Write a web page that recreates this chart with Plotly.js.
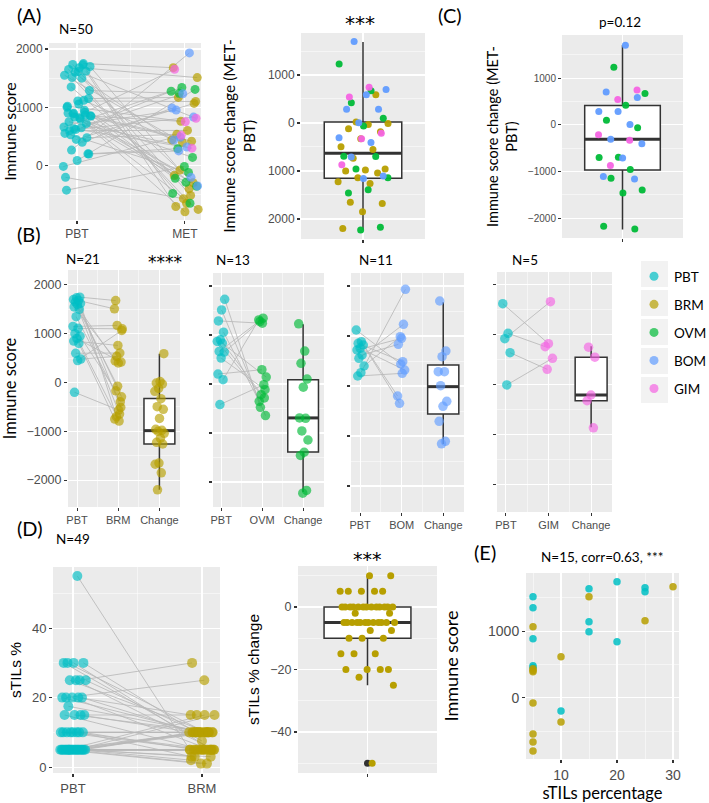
<!DOCTYPE html>
<html><head><meta charset="utf-8">
<script src="https://cdn.plot.ly/plotly-3.0.1.min.js"></script>
<style>html,body{margin:0;padding:0;background:#fff}#chart{width:709px;height:803px}</style>
</head><body><div id="chart"></div>
<script>
// ---------------- DATA ----------------
const groupNames = ['PBT', 'BRM', 'OVM', 'BOM', 'GIM'];
// paired immune scores: primary breast tumour (PBT) vs metastasis, per metastatic site
const pbtBRM = [1750, 1735, 1700, 1680, 1650, 1620, 1600, 1550, 1500, 1350, 1150, 1110, 1000, 950, 900, 850, 800, 600, 480, 450, -200];
const metBRM = [1680, -510, -75, 1510, -646, -700, -292, 400, 442, -395, 1170, 1100, -790, -170, 420, 760, -750, 605, 537, 1068, -565];
const pbtOVM = [1729, 1512, 1288, 1058, 902, 868, 834, 664, 651, 529, 203, 88, -420];
const metOVM = [-475, -644, 1240, -353, -285, -217, 142, 1342, 1275, -115, 292, 1308, -14];
const pbtBOM = [1120, 887, 853, 820, 753, 720, 620, 553, 400, 267, 200];
const metBOM = [440, -200, 487, -347, 320, 953, 833, 1233, 987, 1933, 253];
const pbtGIM = [1613, 1020, 913, 633, -13];
const metGIM = [813, 753, 1653, 300, 520];
// immune score change (MET - PBT) as plotted
const chgBRM = [590, 20, -10, -30, -120, -180, -330, -495, -550, -735, -960, -980, -1000, -1040, -1140, -1225, -1260, -1650, -1675, -1850, -2200];
const chgOVM = [1229, 671, 421, 100, -64, -693, -700, -957, -1143, -1393, -1457, -2171, -2229];
const chgBOM = [1700, 700, 586, 286, 286, 7, -307, -407, -707, -1107, -1157];
const chgGIM = [743, 543, -214, -329, -871];
// box statistics: A(all), C(non-BRM), BRM, OVM, BOM, GIM, D(sTILs change)
const boxNames = ['A', 'C', 'BRM', 'OVM', 'BOM', 'GIM', 'D'];
const boxQ1  = [-1150, -964, -1258, -1390, -560, -329, -10];
const boxMed = [-630, -307, -986, -692, -13, -214, -5];
const boxQ3  = [20, 414, -327, 88, 420, 543, 0];
const boxLo  = [-2230, -2236, -2200, -2203, -1160, -860, -25];
const boxHi  = [1690, 1700, 590, 1220, 1673, 760, 10];
const boxOutD = [-50];
// sTILs % paired PBT vs BRM (N=49)
const tilPBT = [55, 30, 30, 30, 30, 25, 25, 25, 25, 20, 20, 20, 20, 20, 17.5, 15, 15, 15, 15, 10, 10, 10, 10, 10, 10, 10, 10,
  5, 5, 5, 5, 5, 5, 5, 5, 5, 5, 5, 5, 5, 5, 5, 5, 5, 5, 5, 5, 5, 5];
const tilBRM = [5, 10, 10, 5, 7.5, 30, 10, 10, 5, 25, 10, 5, 10, 15, 10, 15, 10, 5, 10, 10, 10, 10, 10, 5, 5, 5, 3,
  5, 5, 5, 5, 5, 5, 5, 5, 5, 10, 10, 10, 10, 10, 10, 15, 15, 3, 3, 1, 2, 1];
const tilChange = [10, 10, 5, 5, 5, 5, 5, 0, 0, 0, 0, 0, 0, 0, 0, 0, 0, 0, 0, 0, -2, -2,
  -5, -5, -5, -5, -5, -5, -5, -5, -5, -5, -5, -5, -7.5, -7.5, -10, -10, -10, -15, -15, -15, -20, -20, -20, -20, -22.5, -25, -50];
// panel E: sTILs percentage vs immune score
const eTilPBT = [5, 5, 5, 5, 5, 10, 15, 15, 15, 20, 20, 25, 25];
const eImmPBT = [1514, 1349, 885, 480, 455, -195, 1634, 1139, 990, 1739, 840, 1650, 1590];
const eTilBRM = [5, 5, 5, 5, 5, 5, 5, 5, 10, 10, 15, 25, 30];
const eImmBRM = [1064, 435, 410, 390, -75, -540, -660, -795, 615, -360, 1514, 1155, 1664];
// tick labels
const immTicks = [-2000, -1000, 0, 1000, 2000];
const immLabels = ['\u22122000', '\u22121000', '0', '1000', '2000'];
const immLabelsA = ['2000', '1000', '0', '1000', '2000'];
const catPair = ['PBT', 'MET'];
const catBRM = ['PBT', 'BRM', 'Change'];
const catOVM = ['PBT', 'OVM', 'Change'];
const catBOM = ['PBT', 'BOM', 'Change'];
const catGIM = ['PBT', 'GIM', 'Change'];
const catTIL = ['PBT', 'BRM'];
const tilTicks = [0, 20, 40];
const tilLabels = ['0', '20', '40'];
const tilChgTicks = [-40, -20, 0];
const tilChgLabels = ['\u221240', '\u221220', '0'];
const eXTicks = [10, 20, 30];
const eXLabels = ['10', '20', '30'];

// ---------------- STYLE / HELPERS ----------------
const W = 709, H = 803;
const COL = {PBT: '#00BFC4', BRM: '#B79F00', OVM: '#00BA38', BOM: '#619CFF', GIM: '#F564E3'};
const dX = (l, r) => [l / W, r / W];
const dY = (t, b) => [1 - b / H, 1 - t / H];
const LINE = 'rgba(185,185,185,0.85)';
// deterministic horizontal jitter (presentation only)
function jit(n, w, seed) {
  const a = [];
  for (let i = 0; i < n; i++) a.push(((((i + 1) * 0.6180339887 + seed) % 1) - 0.5) * 2 * w);
  return a;
}
const traces = [];
function addLines(xa, ya, xs1, xs2, y1, y2) {
  const xs = [], ys = [];
  for (let i = 0; i < y1.length; i++) { xs.push(xs1[i], xs2[i], null); ys.push(y1[i], y2[i], null); }
  traces.push({type: 'scatter', mode: 'lines', x: xs, y: ys, xaxis: xa, yaxis: ya,
    line: {color: LINE, width: 1}, hoverinfo: 'skip', showlegend: false});
}
function addPts(xa, ya, xs, ys, color, size, op, name, legend) {
  traces.push({type: 'scatter', mode: 'markers', x: xs, y: ys, xaxis: xa, yaxis: ya, name: name,
    legendgroup: name, showlegend: !!legend, marker: {color: color, size: size, opacity: op, line: {width: 0}},
    hoverinfo: 'skip', cliponaxis: false});
}
function addBox(xa, ya, pos, k) {
  traces.push({type: 'box', xaxis: xa, yaxis: ya, x: [pos], q1: [boxQ1[k]], median: [boxMed[k]], q3: [boxQ3[k]],
    lowerfence: [boxLo[k]], upperfence: [boxHi[k]], width: 0.75, whiskerwidth: 0, fillcolor: '#FFFFFF',
    line: {color: '#333333', width: 1.5}, boxpoints: false, showlegend: false, hoverinfo: 'skip'});
  traces.push({type: 'scatter', mode: 'lines', x: [pos - 0.375, pos + 0.375], y: [boxMed[k], boxMed[k]],
    xaxis: xa, yaxis: ya, line: {color: '#333333', width: 3}, hoverinfo: 'skip', showlegend: false});
}
const offs = (base, j) => j.map(v => base + v);

// ---------------- PANEL A (left): all pairs ----------------
const metSets = [['BRM', pbtBRM, metBRM, chgBRM], ['OVM', pbtOVM, metOVM, chgOVM], ['BOM', pbtBOM, metBOM, chgBOM], ['GIM', pbtGIM, metGIM, chgGIM]];
{
  const allP = [].concat(pbtBRM, pbtOVM, pbtBOM, pbtGIM);
  const allM = [].concat(metBRM, metOVM, metBOM, metGIM);
  const jp = offs(1, jit(allP.length, 0.13, 0.11));
  const jm = offs(2, jit(allM.length, 0.13, 0.47));
  addLines('x', 'y', jp, jm, allP, allM);
  addPts('x', 'y', jp, allP, COL.PBT, 9, 0.7, 'PBT', true);
  let s = 0;
  metSets.forEach(([g, p, m]) => {
    addPts('x', 'y', jm.slice(s, s + m.length), m, COL[g], 9, 0.7, g, true);
    s += m.length;
  });
}
// ---------------- PANEL A (right): change, all ----------------
addBox('x2', 'y2', 1, 0);
metSets.forEach(([g, p, m, c], i) => addPts('x2', 'y2', offs(1, jit(c.length, 0.25, 0.13 + i * 0.29)), c, COL[g], 7, 0.95, g, false));
// ---------------- PANEL C: change, non-BRM ----------------
addBox('x3', 'y3', 1, 1);
metSets.slice(1).forEach(([g, p, m, c], i) => addPts('x3', 'y3', offs(1, jit(c.length, 0.25, 0.71 + i * 0.23)), c, COL[g], 7, 0.95, g, false));
// ---------------- PANEL B: per site ----------------
metSets.forEach(([g, p, m, c], i) => {
  const xa = 'x' + (4 + i), ya = 'y' + (4 + i);
  const jp = offs(1, jit(p.length, 0.1, 0.21 + i * 0.1));
  const jm = offs(2, jit(m.length, 0.1, 0.57 + i * 0.1));
  addLines(xa, ya, jp, jm, p, m);
  addPts(xa, ya, jp, p, COL.PBT, 9.5, 0.65, 'PBT', false);
  addPts(xa, ya, jm, m, COL[g], 9.5, 0.65, g, false);
  addBox(xa, ya, 3, 2 + i);
  addPts(xa, ya, offs(3, jit(c.length, 0.12, 0.33 + i * 0.1)), c, COL[g], 9.5, 0.65, g, false);
});
// ---------------- PANEL D ----------------
{
  const jp = offs(1, jit(tilPBT.length, 0.1, 0.05));
  const jb = offs(2, jit(tilBRM.length, 0.1, 0.41));
  addLines('x8', 'y8', jp, jb, tilPBT, tilBRM);
  addPts('x8', 'y8', jp, tilPBT, COL.PBT, 10, 0.65, 'PBT', false);
  addPts('x8', 'y8', jb, tilBRM, COL.BRM, 10, 0.65, 'BRM', false);
  addBox('x9', 'y9', 1, 6);
  addPts('x9', 'y9', boxOutD.map(() => 1), boxOutD, '#333333', 7, 1, 'outlier', false);
  addPts('x9', 'y9', offs(1, jit(tilChange.length, 0.24, 0.3)), tilChange, COL.BRM, 7, 1, 'BRM', false);
}
// ---------------- PANEL E ----------------
addPts('x10', 'y10', eTilPBT, eImmPBT, COL.PBT, 7.5, 0.85, 'PBT', false);
addPts('x10', 'y10', eTilBRM, eImmBRM, COL.BRM, 7.5, 0.85, 'BRM', false);

// ---------------- AXES ----------------
const TF = s => ({family: '"Liberation Sans", Arial, sans-serif', size: s, color: '#4D4D4D'});
function ax(o) {
  return Object.assign({showgrid: true, gridcolor: '#FFFFFF', gridwidth: 1.1, zeroline: false, showline: false,
    ticks: 'outside', ticklen: 3, tickwidth: 1.1, tickcolor: '#333333', tickmode: 'array', fixedrange: true,
    automargin: false}, o);
}
const mn = v => ({tickmode: 'array', tickvals: v, showgrid: true, gridcolor: '#FFFFFF', gridwidth: 0.5, ticks: ''});
const immMinor = [-1500, -500, 500, 1500];
const TT = (text, size, family, standoff) => ({text: text, font: {family: family || 'Lato', size: size, color: '#000'}, standoff: standoff});

const layout = {
  width: W, height: H, margin: {l: 0, r: 0, t: 0, b: 0, autoexpand: false}, paper_bgcolor: '#FFFFFF', plot_bgcolor: '#EBEBEB',
  font: {family: 'Lato', color: '#000'}, showlegend: true,
  legend: {x: 634 / W, y: 1 - 261 / H, xanchor: 'left', yanchor: 'top', bgcolor: 'rgba(0,0,0,0)',
    font: {family: 'Lato', size: 13.5, color: '#000'}, tracegroupgap: 7.5, itemclick: false, itemdoubleclick: false},
  xaxis: ax({domain: dX(49, 201), range: [0.74, 2.15], tickvals: [1, 2], ticktext: catPair, minor: mn([1.5]), tickfont: TF(12), anchor: 'y'}),
  yaxis: ax({domain: dY(43, 220), range: [-931, 2103], tickvals: immTicks, ticktext: immLabels, minor: mn(immMinor), tickfont: TF(12), anchor: 'x',
    title: TT('Immune score', 16, 'Lato', 6)}),
  xaxis2: ax({domain: dX(301, 425), range: [0.4, 1.6], tickvals: [1], ticktext: [''], tickfont: TF(12), anchor: 'y2'}),
  yaxis2: ax({domain: dY(33, 239), range: [-2417, 1875], tickvals: immTicks, ticktext: immLabelsA, minor: mn(immMinor), tickfont: TF(12), anchor: 'x2',
    title: TT('Immune score change (MET-<br>PBT)', 15.5, 'Lato', 8)}),
  xaxis3: ax({domain: dX(562, 683), range: [0.4, 1.6], tickvals: [1], ticktext: [''], tickfont: TF(10), anchor: 'y3'}),
  yaxis3: ax({domain: dY(35, 238), range: [-2420, 1921], tickvals: immTicks, ticktext: immLabels, minor: mn(immMinor), tickfont: TF(10), anchor: 'x3',
    title: TT('Immune score change (MET-<br>PBT)', 14.5, 'Lato', 6)}),
  xaxis4: ax({domain: dX(68, 180), range: [0.78, 3.5], tickvals: [1, 2, 3], ticktext: catBRM, minor: mn([1.5, 2.5]), tickfont: TF(11), anchor: 'y4'}),
  yaxis4: ax({domain: dY(270, 507), range: [-2551, 2306], tickvals: immTicks, ticktext: immLabels, minor: mn(immMinor), tickfont: TF(12.5), anchor: 'x4',
    title: TT('Immune score', 16.5, 'Lato', 6)}),
  xaxis5: ax({domain: dX(213, 324), range: [0.8, 3.51], tickvals: [1, 2, 3], ticktext: catOVM, minor: mn([1.5, 2.5]), tickfont: TF(11), anchor: 'y5'}),
  yaxis5: ax({domain: dY(273, 507), range: [-2510, 2265], tickvals: immTicks, ticktext: immLabels, showticklabels: false, minor: mn(immMinor), anchor: 'x5'}),
  xaxis6: ax({domain: dX(351, 464), range: [0.78, 3.5], tickvals: [1, 2, 3], ticktext: catBOM, minor: mn([1.5, 2.5]), tickfont: TF(11), anchor: 'y6'}),
  yaxis6: ax({domain: dY(273, 512), range: [-2520, 2260], tickvals: immTicks, ticktext: immLabels, showticklabels: false, minor: mn(immMinor), anchor: 'x6'}),
  xaxis7: ax({domain: dX(497, 612), range: [0.79, 3.49], tickvals: [1, 2, 3], ticktext: catGIM, minor: mn([1.5, 2.5]), tickfont: TF(11), anchor: 'y7'}),
  yaxis7: ax({domain: dY(272, 512), range: [-2554, 2246], tickvals: immTicks, ticktext: immLabels, showticklabels: false, minor: mn(immMinor), anchor: 'x7'}),
  xaxis8: ax({domain: dX(53, 220), range: [0.845, 2.14], tickvals: [1, 2], ticktext: catTIL, minor: mn([1.5]), tickfont: TF(13), anchor: 'y8'}),
  yaxis8: ax({domain: dY(567, 773), range: [-1.7, 57.6], tickvals: tilTicks, ticktext: tilLabels, minor: mn([10, 30, 50]), tickfont: TF(13), anchor: 'x8',
    title: TT('sTILs %', 15.5, '"Liberation Sans", Arial, sans-serif', 6)}),
  xaxis9: ax({domain: dX(298, 437), range: [0.4, 1.6], tickvals: [1], ticktext: [''], tickfont: TF(12.5), anchor: 'y9'}),
  yaxis9: ax({domain: dY(566, 773), range: [-53.1, 13.1], tickvals: tilChgTicks, ticktext: tilChgLabels, minor: mn([10, -10, -30, -50]), tickfont: TF(12.5), anchor: 'x9',
    title: TT('sTILs % change', 15.5, '"Liberation Sans", Arial, sans-serif', 6)}),
  xaxis10: ax({domain: dX(526, 679), range: [3.75, 31.07], tickvals: eXTicks, ticktext: eXLabels, minor: mn([5, 15, 25]), tickfont: TF(14), anchor: 'y10',
    title: TT('sTILs percentage', 16.5, 'Lato', 8)}),
  yaxis10: ax({domain: dY(573, 759), range: [-915, 1870], tickvals: immTicks, ticktext: immLabels, minor: mn([-500, 500, 1500]), tickfont: TF(14), anchor: 'x10',
    title: TT('Immune score', 18, 'Lato', 24)}),
  annotations: [],
  shapes: []
};
function note(text, x, y, size, opts) {
  layout.annotations.push(Object.assign({text: text, x: x / W, y: 1 - y / H, xref: 'paper', yref: 'paper', showarrow: false,
    xanchor: 'center', yanchor: 'middle', font: {family: 'Lato', size: size, color: '#000'}}, opts || {}));
}
note('(A)', 29, 15, 20);
note('N=50', 76, 29, 13.5);
note('***', 360, 23, 18, {font: {family: 'DejaVu Sans', size: 20, color: '#000'}});
note('(C)', 450, 15, 20);
note('p=0.12', 620, 22, 13.5);
note('(B)', 29, 234, 20);
note('N=21', 83, 259, 13.5);
note('****', 165, 262, 17, {font: {family: 'DejaVu Sans', size: 17, color: '#000'}});
note('N=13', 233, 260, 13.5);
note('N=11', 376, 260, 13.5);
note('N=5', 525, 260, 13.5);
note('(D)', 30, 528, 20);
note('N=49', 73, 539, 13.5);
note('***', 367, 559, 17, {font: {family: 'DejaVu Sans', size: 19, color: '#000'}});
note('(E)', 485, 552, 20);
note('N=15, corr=0.63, ***', 602, 557, 13.5);
// legend key backgrounds (theme_grey legend keys)
[274, 303, 332, 361, 390].forEach(c => layout.shapes.push({type: 'rect', xref: 'paper', yref: 'paper',
  x0: 641 / W, x1: 668 / W, y0: 1 - (c + 13) / H, y1: 1 - (c - 13) / H, fillcolor: '#F2F2F2', line: {width: 0}, layer: 'below'}));

Plotly.newPlot('chart', traces, layout, {displayModeBar: false, staticPlot: true});
</script></body></html>
